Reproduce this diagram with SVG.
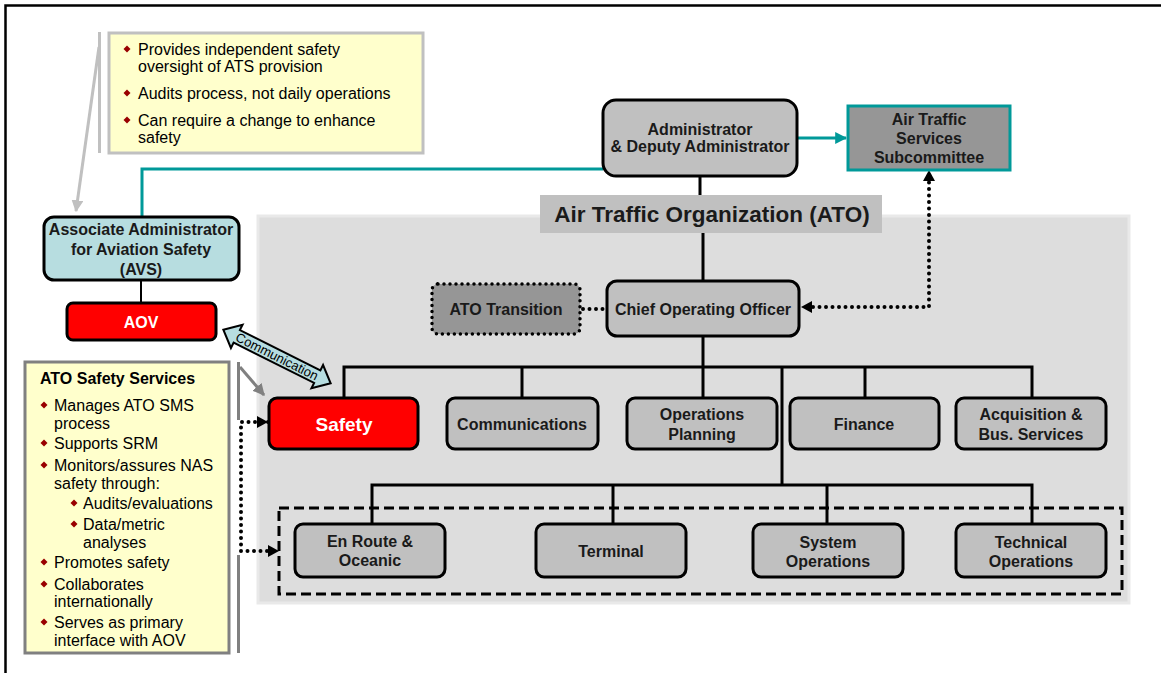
<svg xmlns="http://www.w3.org/2000/svg" width="1161" height="673" viewBox="0 0 1161 673">
<style>
text{font-family:"Liberation Sans",Arial,sans-serif}
.lbl{font-size:16px;font-weight:bold;fill:#1a1a1a;text-anchor:middle}
.wht{font-size:16px;font-weight:bold;fill:#fff;text-anchor:middle}
.bt{font-size:16px;fill:#000}
.box{fill:#c0c0c0;stroke:#000;stroke-width:3}
.red{fill:#ff0000;stroke:#000;stroke-width:3}
.ln{stroke:#000;stroke-width:3;fill:none}
.dot{stroke:#000;stroke-width:4;fill:none;stroke-linecap:round;stroke-dasharray:0 6.5}
.dia{fill:#990000}
</style>
<defs>
<marker id="aht" viewBox="0 0 10 10" refX="9" refY="5" markerWidth="12" markerHeight="12" markerUnits="userSpaceOnUse" orient="auto"><path d="M0,0 L10,5 L0,10 z" fill="#009999"/></marker>
<marker id="ahg" viewBox="0 0 10 10" refX="9" refY="5" markerWidth="12" markerHeight="12" markerUnits="userSpaceOnUse" orient="auto"><path d="M0,0 L10,5 L0,10 z" fill="#c0c0c0"/></marker>
<marker id="ahd" viewBox="0 0 10 10" refX="9" refY="5" markerWidth="12" markerHeight="12" markerUnits="userSpaceOnUse" orient="auto"><path d="M0,0 L10,5 L0,10 z" fill="#808080"/></marker>
<path id="dmd" d="M0,-3.5 L3.5,0 L0,3.5 L-3.5,0 z"/>
</defs>
<rect width="1161" height="673" fill="#fff"/>
<path d="M5.5,673 V5.5 H1161" fill="none" stroke="#000" stroke-width="2.5"/>

<g id="ato-panel">
<rect x="258" y="216" width="871" height="387" fill="#dddddd" stroke="#e9e9e9" stroke-width="3"/>
<rect x="279" y="508" width="843" height="86" fill="none" stroke="#000" stroke-width="3" stroke-dasharray="10 5"/>
</g>

<g id="connectors">
<line class="ln" x1="700" y1="176" x2="700" y2="196"/>
<line class="ln" x1="703" y1="232" x2="703" y2="281"/>
<line class="ln" x1="703" y1="336" x2="703" y2="398"/>
<polyline class="ln" points="344,398 344,367 1032,367 1032,398"/>
<line class="ln" x1="522" y1="367" x2="522" y2="398"/>
<line class="ln" x1="865" y1="367" x2="865" y2="398"/>
<line class="ln" x1="782" y1="367" x2="782" y2="485"/>
<polyline class="ln" points="372,524 372,485 1032,485 1032,524"/>
<line class="ln" x1="613" y1="485" x2="613" y2="524"/>
<line class="ln" x1="827" y1="485" x2="827" y2="524"/>
<polyline points="603,169 142,169 142,217" fill="none" stroke="#009999" stroke-width="3"/>
<line x1="797" y1="138" x2="846" y2="138" stroke="#009999" stroke-width="3" marker-end="url(#aht)"/>
<line x1="141" y1="280" x2="141" y2="303" stroke="#000" stroke-width="2"/>
<line class="dot" x1="583" y1="309" x2="606" y2="309"/>
<polyline class="dot" points="929,176 929,307 812,307"/>
<path d="M801,307 L812,301 L812,313 z" fill="#000"/>
<path d="M929,170 L923,181 L935,181 z" fill="#000"/>
<polyline class="dot" points="268,422 241,422 241,551 268,551"/>
<path d="M279,551 L268,545 L268,557 z" fill="#000"/>
<path d="M268,422 L257,416 L257,428 z" fill="#000"/>
<line x1="99" y1="47" x2="76" y2="211" stroke="#c0c0c0" stroke-width="3" marker-end="url(#ahg)"/>
<line x1="240" y1="367" x2="264" y2="395" stroke="#808080" stroke-width="3" marker-end="url(#ahd)"/>
<g transform="translate(277,356.5) rotate(26.57)">
<polygon points="-60,0 -45,-13 -45,-7 45,-7 45,-13 60,0 45,13 45,7 -45,7 -45,13" fill="#b7dde0" stroke="#000" stroke-width="2"/>
<text x="0" y="4.5" text-anchor="middle" font-size="13" fill="#000">Communication</text>
</g>
</g>

<g id="avs-callout">
<line x1="99.5" y1="32" x2="99.5" y2="153" stroke="#c0c0c0" stroke-width="3"/>
<rect x="109" y="33" width="314" height="120" fill="#ffffcc" stroke="#c0c0c0" stroke-width="3"/>
<use href="#dmd" class="dia" x="127" y="49"/>
<text class="bt" x="138" y="55">Provides independent safety</text>
<text class="bt" x="138" y="72">oversight of ATS provision</text>
<use href="#dmd" class="dia" x="127" y="93"/>
<text class="bt" x="138" y="99">Audits process, not daily operations</text>
<use href="#dmd" class="dia" x="127" y="120"/>
<text class="bt" x="138" y="126">Can require a change to enhance</text>
<text class="bt" x="138" y="143">safety</text>
</g>

<g id="administrator">
<rect class="box" x="603" y="100" width="194" height="76" rx="13"/>
<text class="lbl" x="700" y="135">Administrator</text>
<text class="lbl" x="700" y="152">&amp; Deputy Administrator</text>
</g>

<g id="ats-subcommittee">
<rect x="848" y="106" width="162" height="64" fill="#969696" stroke="#009999" stroke-width="3"/>
<text class="lbl" x="929" y="125">Air Traffic</text>
<text class="lbl" x="929" y="144">Services</text>
<text class="lbl" x="929" y="163">Subcommittee</text>
</g>

<g id="ato-title">
<rect x="540" y="195" width="342" height="38" fill="#c0c0c0"/>
<text x="712" y="222" text-anchor="middle" font-size="22.5" font-weight="bold" fill="#1a1a1a">Air Traffic Organization (ATO)</text>
</g>

<g id="avs">
<rect x="44" y="217" width="195" height="63" rx="10" fill="#b7dde0" stroke="#000" stroke-width="3"/>
<text class="lbl" x="141" y="235">Associate Administrator</text>
<text class="lbl" x="141" y="255">for Aviation Safety</text>
<text class="lbl" x="141" y="275">(AVS)</text>
</g>

<g id="aov">
<rect class="red" x="67" y="303" width="149" height="37" rx="6"/>
<text class="wht" x="141" y="328">AOV</text>
</g>

<g id="ato-transition">
<rect x="432" y="284" width="148" height="50" rx="6" fill="#969696" stroke="#000" stroke-width="3.5" stroke-linecap="round" stroke-dasharray="0 6"/>
<text class="lbl" x="506" y="315">ATO Transition</text>
</g>

<g id="coo">
<rect class="box" x="607" y="281" width="192" height="55" rx="10"/>
<text class="lbl" x="703" y="315">Chief Operating Officer</text>
</g>

<g id="safety">
<rect class="red" x="269" y="398" width="149" height="51" rx="8"/>
<text class="wht" x="344" y="431" style="font-size:19px">Safety</text>
</g>
<g id="communications">
<rect class="box" x="447" y="398" width="151" height="51" rx="8"/>
<text class="lbl" x="522" y="430">Communications</text>
</g>
<g id="operations-planning">
<rect class="box" x="627" y="398" width="150" height="51" rx="8"/>
<text class="lbl" x="702" y="420">Operations</text>
<text class="lbl" x="702" y="440">Planning</text>
</g>
<g id="finance">
<rect class="box" x="790" y="398" width="149" height="51" rx="8"/>
<text class="lbl" x="864" y="430">Finance</text>
</g>
<g id="acquisition">
<rect class="box" x="956" y="398" width="150" height="51" rx="8"/>
<text class="lbl" x="1031" y="420">Acquisition &amp;</text>
<text class="lbl" x="1031" y="440">Bus. Services</text>
</g>

<g id="en-route">
<rect class="box" x="295" y="524" width="150" height="53" rx="8"/>
<text class="lbl" x="370" y="547">En Route &amp;</text>
<text class="lbl" x="370" y="566">Oceanic</text>
</g>
<g id="terminal">
<rect class="box" x="536" y="524" width="150" height="53" rx="8"/>
<text class="lbl" x="611" y="557">Terminal</text>
</g>
<g id="system-operations">
<rect class="box" x="753" y="524" width="150" height="53" rx="8"/>
<text class="lbl" x="828" y="548">System</text>
<text class="lbl" x="828" y="567">Operations</text>
</g>
<g id="technical-operations">
<rect class="box" x="956" y="524" width="150" height="53" rx="8"/>
<text class="lbl" x="1031" y="548">Technical</text>
<text class="lbl" x="1031" y="567">Operations</text>
</g>

<g id="ato-safety-services">
<rect x="25" y="362" width="204" height="291" fill="#ffffcc" stroke="#808080" stroke-width="3"/>
<line x1="238.5" y1="362" x2="238.5" y2="420" stroke="#808080" stroke-width="3"/>
<line x1="238.5" y1="555" x2="238.5" y2="653" stroke="#808080" stroke-width="3"/>
<text x="40" y="384" font-size="16" font-weight="bold" fill="#000">ATO Safety Services</text>
<use href="#dmd" class="dia" x="44" y="405"/>
<text class="bt" x="54" y="411">Manages ATO SMS</text>
<text class="bt" x="54" y="429">process</text>
<use href="#dmd" class="dia" x="44" y="443"/>
<text class="bt" x="54" y="449">Supports SRM</text>
<use href="#dmd" class="dia" x="44" y="465"/>
<text class="bt" x="54" y="471">Monitors/assures NAS</text>
<text class="bt" x="54" y="489">safety through:</text>
<use href="#dmd" class="dia" x="74" y="503"/>
<text class="bt" x="83" y="509">Audits/evaluations</text>
<use href="#dmd" class="dia" x="74" y="524"/>
<text class="bt" x="83" y="530">Data/metric</text>
<text class="bt" x="83" y="548">analyses</text>
<use href="#dmd" class="dia" x="44" y="562"/>
<text class="bt" x="54" y="568">Promotes safety</text>
<use href="#dmd" class="dia" x="44" y="584"/>
<text class="bt" x="54" y="590">Collaborates</text>
<text class="bt" x="54" y="607">internationally</text>
<use href="#dmd" class="dia" x="44" y="622"/>
<text class="bt" x="54" y="628">Serves as primary</text>
<text class="bt" x="54" y="646">interface with AOV</text>
</g>
</svg>
